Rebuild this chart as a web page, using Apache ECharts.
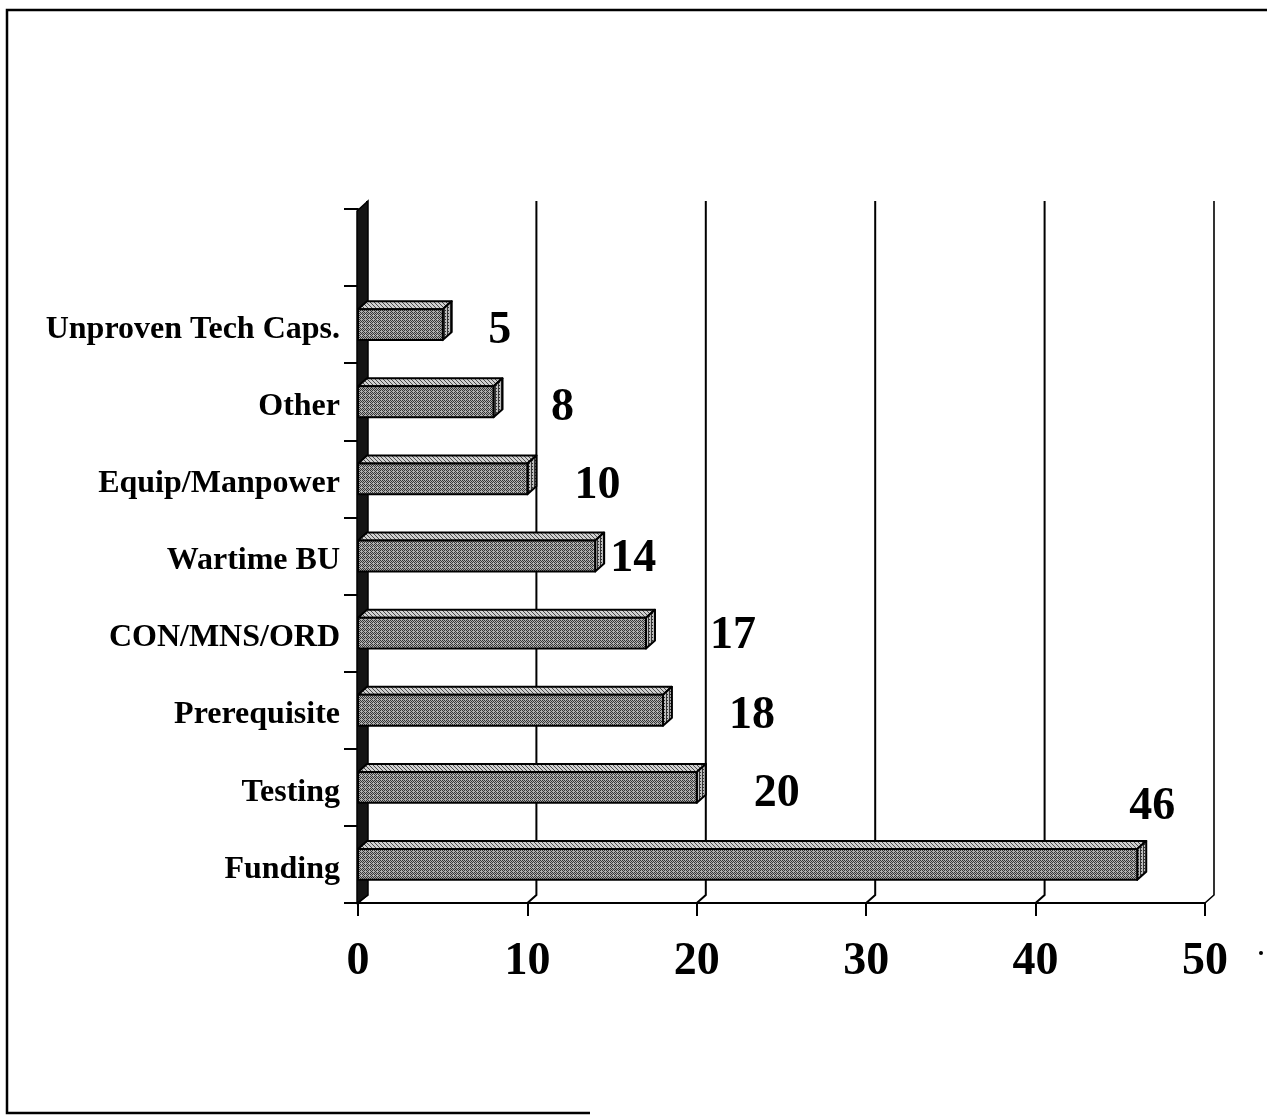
<!DOCTYPE html>
<html>
<head>
<meta charset="utf-8">
<script src="https://cdn.jsdelivr.net/npm/echarts@6/dist/echarts.min.js"></script>
<style>
  html, body { margin: 0; padding: 0; background: #fff; }
  #chart { width: 1267px; height: 1115px; }
</style>
</head>
<body>
<div id="chart"></div>
<script>
// Reasons cited, listed bottom to top; the top slot is left empty.
const categories = ['Funding', 'Testing', 'Prerequisite', 'CON/MNS/ORD', 'Wartime BU',
                    'Equip/Manpower', 'Other', 'Unproven Tech Caps.', ''];
const counts = [46, 20, 18, 17, 14, 10, 8, 5];
const tickValues = [0, 10, 20, 30, 40, 50];

// Where each value label sits relative to the end of its bar (px).
const labelShift = [[15, -57], [80, 7], [89, 6], [87, 3], [38, 3], [70, 7], [69, 6], [57, 6]];

// 3-D depth of the box drawing
const DX = 9, DY = -8;
const SERIF = '"Liberation Serif", "Times New Roman", serif';

// Halftone-like fills for the box faces
function hatch(base, ink, size, marks) {
  const c = document.createElement('canvas');
  c.width = size; c.height = size;
  const g = c.getContext('2d');
  g.fillStyle = base; g.fillRect(0, 0, size, size);
  g.fillStyle = ink;
  marks.forEach(function (m) { g.fillRect(m[0], m[1], 1, 1); });
  return { image: c, repeat: 'repeat' };
}
const frontFill = hatch('#b0b0b0', '#363636', 4, [[0, 0], [1, 1], [2, 2], [3, 3], [2, 0], [3, 1], [0, 2]]);
const topFill = hatch('#d0d0d0', '#4a4a4a', 4, [[0, 0], [1, 1], [2, 2], [3, 3]]);
const sideFill = hatch('#bdbdbd', '#333333', 3, [[0, 0], [0, 1], [0, 2], [1, 1]]);

const barData = counts.map(function (v, i) { return [v, i]; });

function renderBar(params, api) {
  const v = api.value(0), c = api.value(1);
  const p0 = api.coord([0, c]);
  const p1 = api.coord([v, c]);
  const h = api.size([0, 1])[1] * 0.4;
  const x0 = p0[0], x1 = p1[0];
  const yt = p1[1] - h / 2, yb = p1[1] + h / 2;
  const stroke = { stroke: '#000', lineWidth: 2, lineJoin: 'round' };
  const shift = labelShift[params.dataIndex];
  return {
    type: 'group',
    children: [
      { type: 'polygon', shape: { points: [[x0, yt], [x1, yt], [x1 + DX, yt + DY], [x0 + DX, yt + DY]] },
        style: Object.assign({ fill: topFill }, stroke) },
      { type: 'polygon', shape: { points: [[x1, yt], [x1 + DX, yt + DY], [x1 + DX, yb + DY], [x1, yb]] },
        style: Object.assign({ fill: sideFill }, stroke) },
      { type: 'rect', shape: { x: x0, y: yt, width: x1 - x0, height: h },
        style: Object.assign({ fill: frontFill }, stroke) },
      { type: 'text', x: x1 + shift[0], y: p1[1] + shift[1],
        style: { text: String(v), fill: '#000', font: 'bold 46px ' + SERIF,
                 align: 'center', verticalAlign: 'middle' } }
    ]
  };
}

// Back-wall grid lines with their short run down to the floor ticks
function renderGrid(params, api) {
  const cs = params.coordSys;
  const top = cs.y, bottom = cs.y + cs.height;
  const x = api.coord([api.value(0), 0])[0];
  const last = api.value(0) === tickValues[tickValues.length - 1];
  return {
    type: 'polyline',
    shape: { points: [[x + DX, top + DY], [x + DX, bottom + DY], [x, bottom]] },
    style: { stroke: '#000', lineWidth: last ? 1.6 : 2, fill: null }
  };
}

// Side wall to the left of the bars
function renderWall(params, api) {
  const cs = params.coordSys;
  const x = cs.x, top = cs.y, bottom = cs.y + cs.height;
  return {
    type: 'polygon',
    shape: { points: [[x - 1, top + 2], [x + DX + 1, top + DY], [x + DX + 1, bottom + DY], [x - 1, bottom]] },
    style: { fill: '#141414', stroke: '#000', lineWidth: 1.5 }
  };
}

const chart = echarts.init(document.getElementById('chart'), null, { renderer: 'canvas' });
chart.setOption({
  backgroundColor: '#ffffff',
  animation: false,
  grid: { left: 358, right: 62, top: 209, bottom: 212, containLabel: false },
  xAxis: {
    type: 'value', min: 0, max: 50, interval: 10,
    axisLine: { show: true, onZero: false, lineStyle: { color: '#000', width: 2 } },
    axisTick: { show: true, length: 13, lineStyle: { color: '#000', width: 2 } },
    splitLine: { show: false },
    axisLabel: { color: '#000', fontFamily: SERIF, fontWeight: 'bold', fontSize: 46,
                 margin: 59, verticalAlign: 'middle' }
  },
  yAxis: {
    type: 'category', data: categories, boundaryGap: true,
    axisLine: { show: true, lineStyle: { color: '#000', width: 2 } },
    axisTick: { show: true, length: 14, lineStyle: { color: '#000', width: 2 } },
    axisLabel: { color: '#000', fontFamily: SERIF, fontWeight: 'bold', fontSize: 32,
                 margin: 18, interval: 0, verticalAlign: 'top', lineHeight: 10 }
  },
  graphic: [
    { type: 'polyline', shape: { points: [[1267, 10], [7, 10], [7, 1113], [590, 1113]] },
      style: { stroke: '#000', lineWidth: 2.5, fill: null } },
    { type: 'circle', shape: { cx: 1261, cy: 953, r: 2 }, style: { fill: '#000' } }
  ],
  series: [
    { type: 'custom', name: 'grid', renderItem: renderGrid, data: tickValues.map(function (t) { return [t]; }),
      encode: { x: 0 }, z: 1, silent: true },
    { type: 'custom', name: 'wall', renderItem: renderWall, data: [[0]], encode: { x: 0 }, z: 2, silent: true },
    { type: 'custom', name: 'Count', renderItem: renderBar, data: barData,
      encode: { x: 0, y: 1 }, z: 3 }
  ]
});
</script>
</body>
</html>
